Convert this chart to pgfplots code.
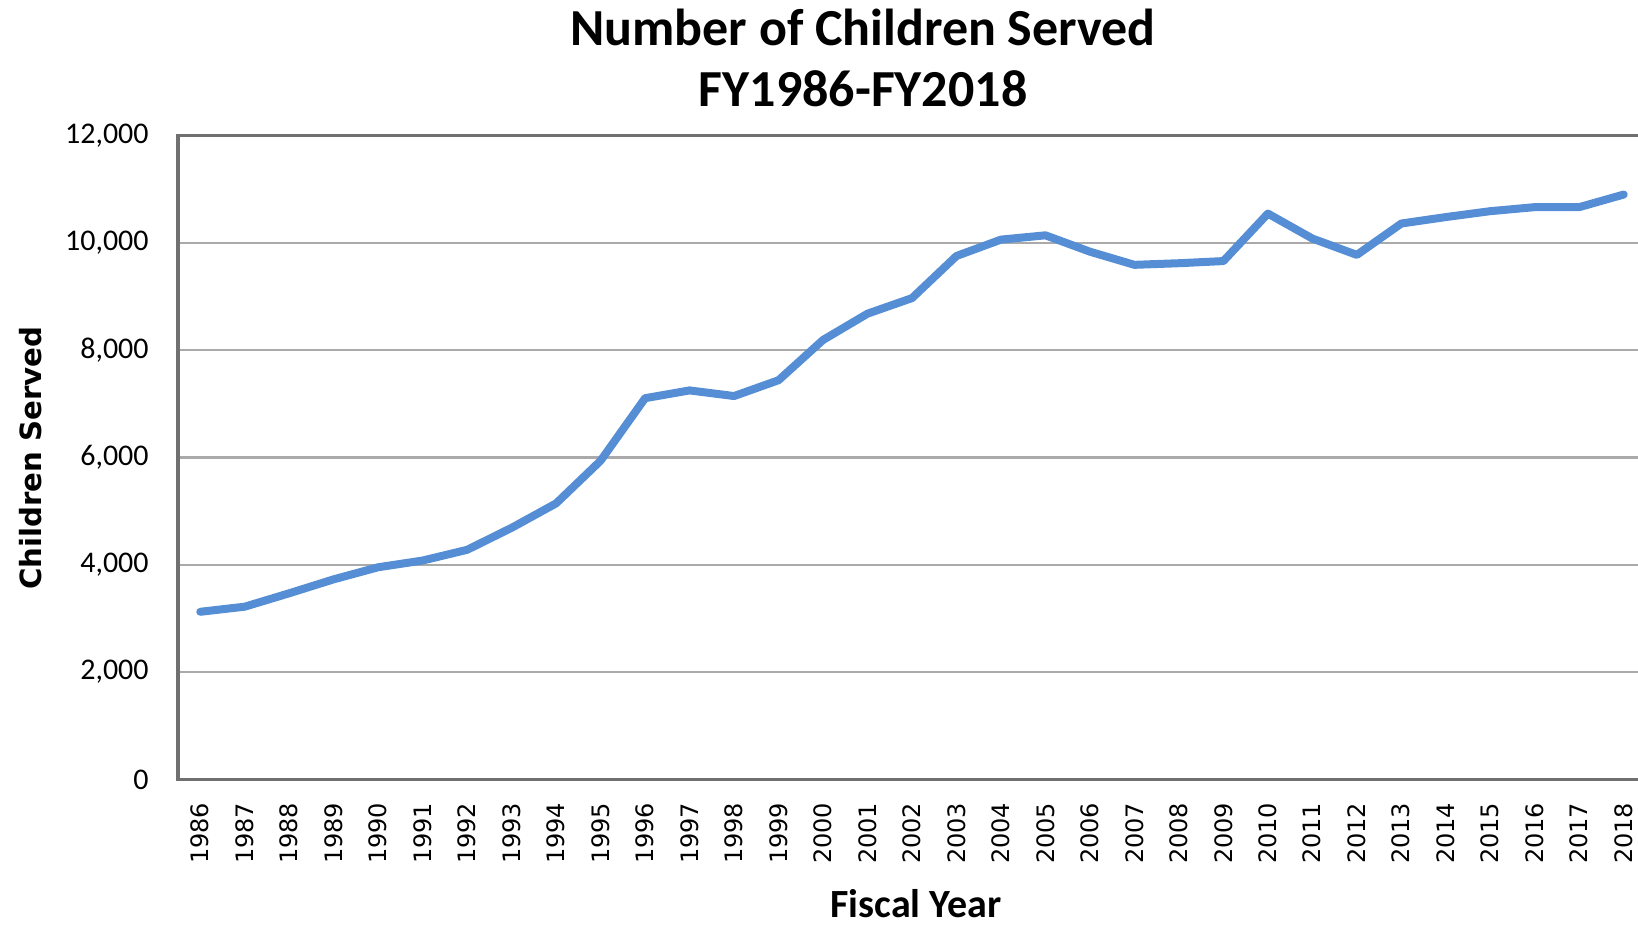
\documentclass[border=0pt]{standalone}
\usepackage{fontspec}
\setmainfont{Carlito}
\newfontfamily\verdanalike{DejaVu Sans}
\usepackage{pgfplots}
\pgfplotsset{compat=1.18}

\definecolor{lineblue}{RGB}{85,142,213}
\definecolor{gridgray}{RGB}{170,170,170}
\definecolor{framegray}{RGB}{112,112,112}

\begin{document}
\begin{tikzpicture}
\useasboundingbox (0,0) rectangle (819pt,463pt);
\begin{axis}[
    at={(89pt,73.25pt)}, anchor=south west,
    scale only axis,
    width=734pt, height=322pt,
    xmin=1985.5, xmax=2018.5,
    ymin=0, ymax=12000,
    xtick={1986,...,2018},
    ytick={0,2000,...,12000},
    scaled y ticks=false,
    major tick length=0pt,
    ymajorgrids,
    grid style={gridgray, line width=1.1pt},
    axis line style={framegray, line width=1.6pt},
    /pgf/number format/assume math mode=true,
    xticklabel={\verdanalike\fontsize{12}{14}\selectfont\pgfmathprintnumber[1000 sep={}]{\tick}},
    x tick label style={rotate=90, anchor=east, inner sep=0pt},
    xticklabel shift=11.5pt,
    y tick label style={font=\fontsize{15}{18}\selectfont,
        anchor=east, inner sep=0pt,
        /pgf/number format/1000 sep={,}},
    yticklabel shift=14.5pt,
    clip=false,
]
\addplot[lineblue, line width=4pt, line join=round, line cap=round] coordinates {
    (1986,3125) (1987,3220) (1988,3470) (1989,3730) (1990,3955)
    (1991,4080) (1992,4280) (1993,4690) (1994,5145) (1995,5940)
    (1996,7105) (1997,7250) (1998,7145) (1999,7440) (2000,8190)
    (2001,8680) (2002,8970) (2003,9755) (2004,10060) (2005,10140)
    (2006,9835) (2007,9590) (2008,9620) (2009,9660) (2010,10545)
    (2011,10080) (2012,9775) (2013,10360) (2014,10480) (2015,10590)
    (2016,10665) (2017,10665) (2018,10900)
};
\end{axis}
\node[anchor=base, font=\bfseries\fontsize{26}{30}\selectfont] at (431.5pt,440pt) {Number of Children Served};
\node[anchor=base, font=\bfseries\fontsize{26}{30}\selectfont] at (431.5pt,409.7pt) {FY1986-FY2018};
\node[rotate=90, anchor=center, font=\verdanalike\bfseries\fontsize{14.6}{17}\selectfont] at (15.5pt,234pt) {Children Served};
\node[anchor=base, font=\bfseries\fontsize{20}{24}\selectfont] at (458pt,4.5pt) {Fiscal Year};
\end{tikzpicture}
\end{document}
